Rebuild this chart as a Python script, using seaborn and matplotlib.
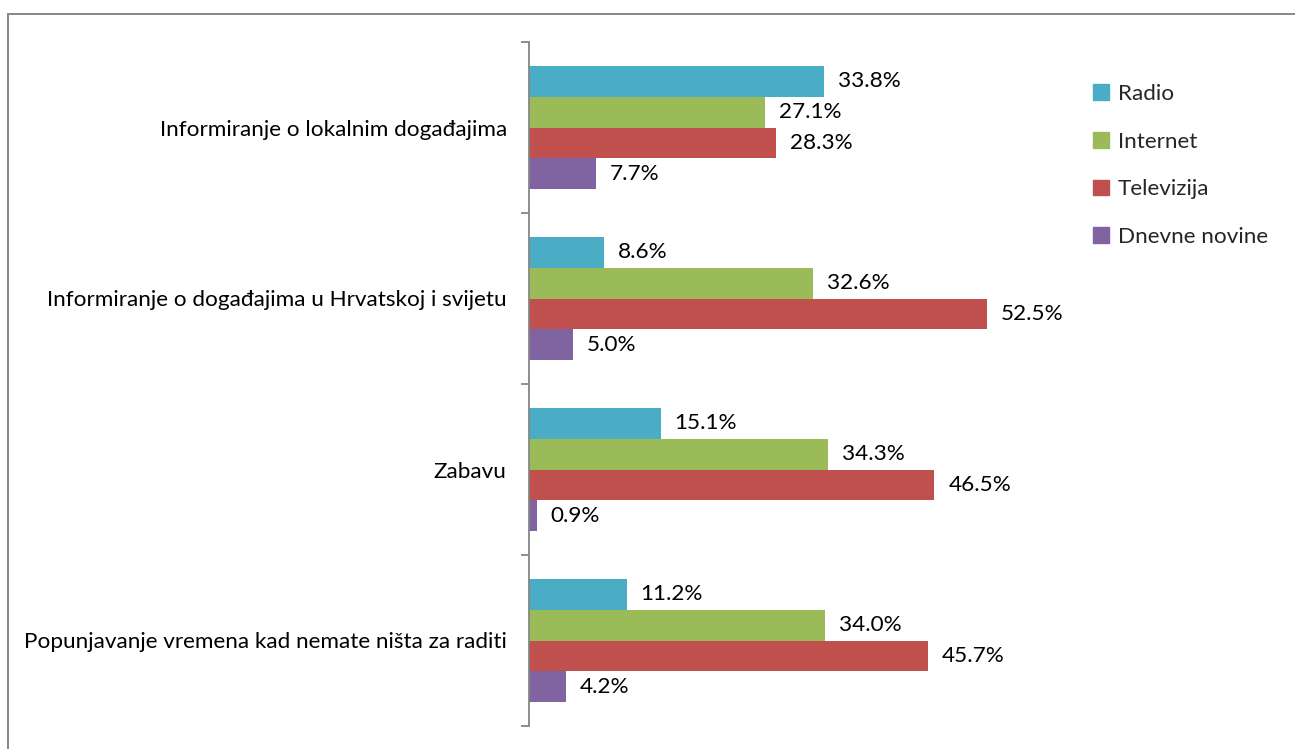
import matplotlib
matplotlib.use("Agg")
import matplotlib.pyplot as plt
import seaborn as sns
import pandas as pd
from matplotlib.lines import Line2D
from matplotlib.ticker import FixedLocator

categories = [
    "Informiranje o lokalnim događajima",
    "Informiranje o događajima u Hrvatskoj i svijetu",
    "Zabavu",
    "Popunjavanje vremena kad nemate ništa za raditi",
]
series = ["Radio", "Internet", "Televizija", "Dnevne novine"]
radio = [33.8, 8.6, 15.1, 11.2]
internet = [27.1, 32.6, 34.3, 34.0]
televizija = [28.3, 52.5, 46.5, 45.7]
dnevne_novine = [7.7, 5.0, 0.9, 4.2]
colors = ["#4BACC6", "#9BBB59", "#C0504D", "#8064A2"]

rows = []
for name, vals in zip(series, [radio, internet, televizija, dnevne_novine]):
    for c, v in zip(categories, vals):
        rows.append({"kategorija": c, "medij": name, "vrijednost": v})
df = pd.DataFrame(rows)

sns.set_theme(style="white")
plt.rcParams["font.family"] = ["Lato", "DejaVu Sans"]
FS = 16.2

W, H = 1295, 749
fig = plt.figure(figsize=(W / 100, H / 100), dpi=100)
ax_left, ax_right = 529, 1052
ax_top, ax_bottom = 42, 726
ax = fig.add_axes([ax_left / W, 1 - ax_bottom / H, (ax_right - ax_left) / W, (ax_bottom - ax_top) / H])

sns.barplot(
    data=df, y="kategorija", x="vrijednost", hue="medij",
    order=categories, hue_order=series, palette=colors,
    orient="h", width=0.725, errorbar=None, ax=ax, linewidth=0, saturation=1,
    legend=False,
)

for cont in ax.containers:
    ax.bar_label(cont, fmt="%.1f%%", padding=10, fontsize=FS, color="#000000")

ax.set_xlim(0, (ax_right - ax_left) / 8.72)
ax.set_ylim(len(categories) - 0.5, -0.5)
ax.set_xlabel("")
ax.set_ylabel("")
ax.set_xticks([])
for s in ["top", "right", "bottom"]:
    ax.spines[s].set_visible(False)
ax.spines["left"].set_color("#868686")
ax.spines["left"].set_linewidth(1.3)

ax.tick_params(axis="y", which="major", length=0, pad=16, labelsize=FS, labelcolor="#000000")
ax.yaxis.set_minor_locator(FixedLocator([i - 0.5 for i in range(len(categories) + 1)]))
ax.tick_params(axis="y", which="minor", left=True, length=6, width=1.3, color="#868686", direction="out")

handles = [plt.Rectangle((0, 0), 1, 1, color=c) for c in colors]
fig.legend(
    handles, series, loc="upper left", bbox_to_anchor=(1093 / W, 1 - 84 / H),
    frameon=False, fontsize=FS, handlelength=0.7, handleheight=0.7,
    handletextpad=0.4, labelspacing=1.23, borderpad=0, borderaxespad=0,
)

border = "#888888"
fig.add_artist(Line2D([7.5 / W, 1.01], [1 - 13.5 / H, 1 - 13.5 / H], transform=fig.transFigure, color=border, lw=1.4))
fig.add_artist(Line2D([7.5 / W, 7.5 / W], [-0.01, 1 - 13.5 / H], transform=fig.transFigure, color=border, lw=1.4))

fig.savefig("out.png", dpi=100, facecolor="white")
